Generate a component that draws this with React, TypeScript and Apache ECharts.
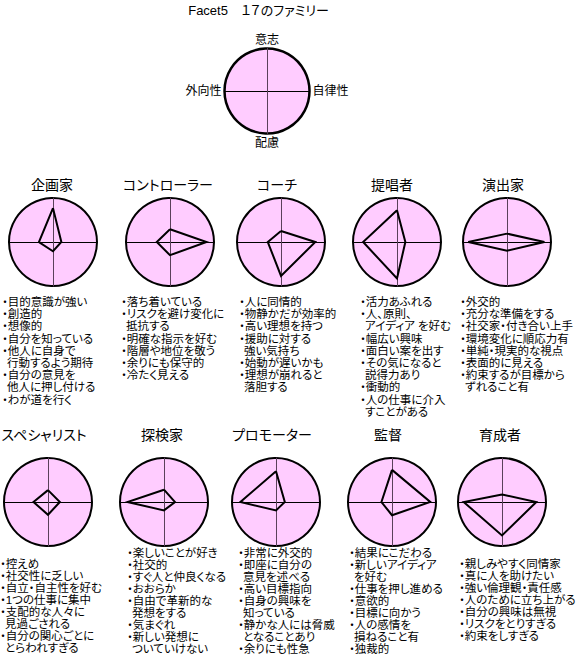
import React, { useEffect, useRef } from "react";
import * as echarts from "echarts";

// ---------- data ----------
const pageTitle = "Facet5　１７のファミリー";

// indicator order (ECharts radar runs counter-clockwise from the top):
// top = 意志, left = 外向性, bottom = 配慮, right = 自律性
const axisNames = ["意志", "外向性", "配慮", "自律性"];

const families = [
  "企画家", "コントローラー", "コーチ", "提唱者", "演出家",
  "スペシャリスト", "探検家", "プロモーター", "監督", "育成者",
];

const willValues = [0.77, 0.29, 0.25, 0.72, 0.19, 0.27, 0.28, 0.7, 0.73, 0.17];
const extraversionValues = [0.32, 0.3, 0.3, 0.77, 0.88, 0.33, 0.83, 0.81, 0.24, 0.87];
const careValues = [0.21, 0.3, 0.77, 0.83, 0.2, 0.29, 0.19, 0.19, 0.3, 0.76];
const autonomyValues = [0.19, 0.83, 0.78, 0.19, 0.85, 0.27, 0.25, 0.2, 0.87, 0.78];

// "|" marks a wrapped continuation line
const traitsPlanner = ["目的意識が強い", "創造的", "想像的", "自分を知っている", "他人に自身で|行動するよう期待", "自分の意見を|他人に押し付ける", "わが道を行く"];
const traitsController = ["落ち着いている", "リスクを避け変化に|抵抗する", "明確な指示を好む", "階層や地位を敬う", "余りにも保守的", "冷たく見える"];
const traitsCoach = ["人に同情的", "物静かだが効率的", "高い理想を持つ", "援助に対する|強い気持ち", "始動が遅いかも", "理想が崩れると|落胆する"];
const traitsAdvocate = ["活力あふれる", "人、原則、|アイディア を好む", "幅広い興味", "面白い案を出す", "その気になると|説得力あり", "衝動的", "人の仕事に介入|すことがある"];
const traitsPerformer = ["外交的", "充分な準備をする", "社交家・付き合い上手", "環境変化に順応力有", "単純・現実的な視点", "表面的に見える", "約束するが目標から|ずれること有"];
const traitsSpecialist = ["控えめ", "社交性に乏しい", "自立・自主性を好む", "1つの仕事に集中", "支配的な人々に|見過ごされる", "自分の関心ごとに|とらわれすぎる"];
const traitsExplorer = ["楽しいことが好き", "社交的", "すぐ人と仲良くなる", "おおらか", "自由で革新的な|発想をする", "気まぐれ", "新しい発想に|ついていけない"];
const traitsPromoter = ["非常に外交的", "即座に自分の|意見を述べる", "高い目標指向", "自身の興味を|知っている", "静かな人には脅威|となることあり", "余りにも性急"];
const traitsDirector = ["結果にこだわる", "新しいアイディア|を好む", "仕事を押し進める", "意欲的", "目標に向かう", "人の感情を|損ねること有", "独裁的"];
const traitsNurturer = ["親しみやすく同情家", "真に人を助けたい", "強い倫理観・責任感", "人のために立ち上がる", "自分の興味は無視", "リスクをとりすぎる", "約束をしすぎる"];

const traitLists = [
  traitsPlanner, traitsController, traitsCoach, traitsAdvocate, traitsPerformer,
  traitsSpecialist, traitsExplorer, traitsPromoter, traitsDirector, traitsNurturer,
];

// ---------- layout ----------
const FONT = '"Liberation Sans", "Noto Sans CJK JP", sans-serif';
const PINK = "#FFCCFF";
const V_AXIS = "#5a405a";
const KEY_CENTER = [267, 91];
const KEY_RADIUS = 42.5;
const SMALL_RADIUS = 44;
const centersX = [[53, 170, 281, 397, 507], [48, 164, 276, 392, 502]];
const rowCenterY = [242, 502];
const titleX = [[52, 168, 277, 392, 503], [44, 162, 272, 388, 500]];
const titleY = [185, 435];
const listTextX = [[8, 127, 245, 366, 466], [6, 133, 244, 355, 465]];
const listFirstY = [[302, 302, 302, 302, 302], [564, 553, 553, 553, 564]];
const lineHeights = [12.2, 12.0];
const LIST_FONT = 11.5;
const TITLE_FONT = 14;
const BULLET_W = 6;

function baseRadar(center: number[], radius: number, border: number, names: boolean) {
  return {
    center,
    radius,
    shape: "circle",
    splitNumber: 1,
    startAngle: 90,
    silent: true,
    indicator: axisNames.map((n) => ({ name: names ? n : "", min: 0, max: 1 })),
    axisName: names
      ? { show: true, color: "#000", fontSize: 12, fontFamily: FONT }
      : { show: false },
    nameGap: 3,
    splitLine: { show: true, lineStyle: { color: "#000", width: border } },
    splitArea: { show: true, areaStyle: { color: [PINK] } },
    axisLine: { show: true, lineStyle: { color: "#000", width: 1 } },
    axisTick: { show: false },
    axisLabel: { show: false },
  };
}

function verticalRadar(center: number[], radius: number) {
  return {
    center,
    radius,
    shape: "circle",
    splitNumber: 1,
    startAngle: 90,
    silent: true,
    indicator: [{ name: "", min: 0, max: 1 }, { name: "", min: 0, max: 1 }],
    axisName: { show: false },
    splitLine: { show: false },
    splitArea: { show: false },
    axisLine: { show: true, lineStyle: { color: V_AXIS, width: 1 } },
    axisTick: { show: false },
    axisLabel: { show: false },
  };
}

function textEl(text: string, x: number, y: number, size: number, align: string) {
  return {
    type: "text",
    x,
    y,
    silent: true,
    z: 10,
    style: {
      text,
      fill: "#000",
      fontSize: size,
      fontFamily: FONT,
      align,
      textAlign: align,
      verticalAlign: "middle",
      textVerticalAlign: "middle",
    },
  };
}

function buildOption() {
  const radars: any[] = [];
  const series: any[] = [];
  const elements: any[] = [];

  radars.push(baseRadar(KEY_CENTER, KEY_RADIUS, 2.5, true));
  radars.push(verticalRadar(KEY_CENTER, KEY_RADIUS));

  families.forEach((name, i) => {
    const row = i < 5 ? 0 : 1;
    const col = i % 5;
    const c = [centersX[row][col], rowCenterY[row]];
    const idx = radars.length;
    radars.push(baseRadar(c, SMALL_RADIUS, 2, false));
    radars.push(verticalRadar(c, SMALL_RADIUS));
    series.push({
      type: "radar",
      radarIndex: idx,
      symbol: "none",
      silent: true,
      z: 5,
      lineStyle: { color: "#000", width: 2, join: "miter", miterLimit: 10 },
      data: [{ name, value: [willValues[i], extraversionValues[i], careValues[i], autonomyValues[i]] }],
    });
    elements.push(textEl(name, titleX[row][col], titleY[row], TITLE_FONT, "center"));

    let y = listFirstY[row][col];
    const tx = listTextX[row][col];
    traitLists[i].forEach((item) => {
      item.split("|").forEach((line, k) => {
        elements.push(textEl(k === 0 ? "・" + line : line, k === 0 ? tx - BULLET_W : tx - 1, y, LIST_FONT, "left"));
        y += lineHeights[row];
      });
    });
  });

  elements.push(textEl(pageTitle, 258.5, 10, 13, "center"));

  return {
    animation: false,
    backgroundColor: "#fff",
    radar: radars,
    series,
    graphic: { elements },
  };
}

export default function App() {
  const ref = useRef<HTMLDivElement>(null);
  useEffect(() => {
    const chart = echarts.init(ref.current!, null, { renderer: "svg" });
    chart.setOption(buildOption() as any);
    return () => chart.dispose();
  }, []);
  return (
    <>
      <style>{`#root svg text { font-feature-settings: "palt" 1; }`}</style>
      <div
        ref={ref}
        style={{ position: "absolute", left: 0, top: 0, width: 580, height: 656 }}
      />
    </>
  );
}
